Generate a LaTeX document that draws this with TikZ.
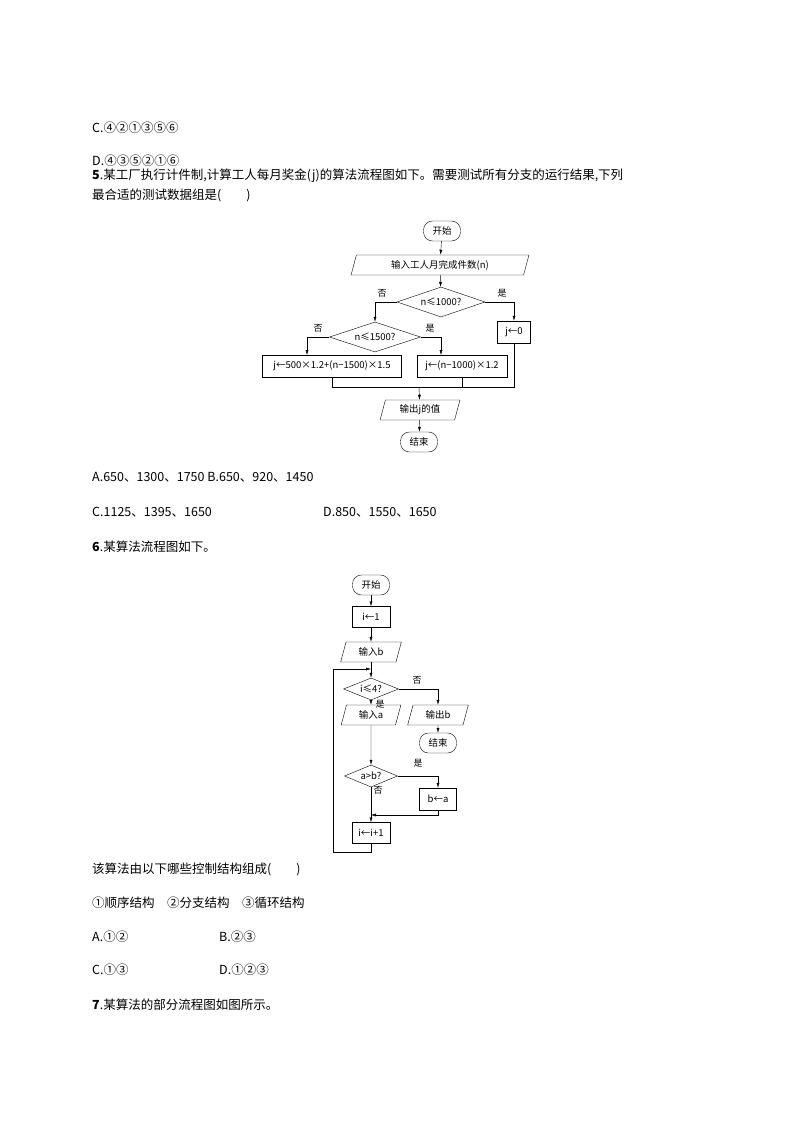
\documentclass[tikz,border=0pt]{standalone}
\usepackage{fontspec}
\setmainfont{Noto Sans CJK SC}
\usetikzlibrary{shapes.geometric,arrows.meta}
\begin{document}
\begin{tikzpicture}[x=1pt,y=-1pt,
  txt/.style={anchor=west,font=\fontsize{12.5}{14}\selectfont,inner sep=0},
  fc/.style={font=\fontsize{9.5}{11}\selectfont,inner sep=1pt},
  term/.style={fc,draw,rounded corners=9pt,minimum width=37pt,minimum height=20pt},
  pbox/.style={fc,draw,minimum height=22pt},
  io/.style={fc,draw,trapezium,trapezium left angle=75,trapezium right angle=105,minimum height=20pt},
  dia/.style={fc,draw,diamond,aspect=3,inner sep=0pt},
  arr/.style={-{Latex[length=5pt,width=3pt]}},
  lab/.style={font=\fontsize{9}{10}\selectfont,inner sep=0}]
\useasboundingbox (0,0) rectangle (794,1123);
\node[txt] (t1) at (92,128) {C.④②①③⑤⑥};
\node[txt] (t2) at (92,161) {D.④③⑤②①⑥};
\node[txt] (t3) at (92,176) {\textbf{5}.某工厂执行计件制,计算工人每月奖金(j)的算法流程图如下。需要测试所有分支的运行结果,下列};
\node[txt] (t4) at (92,195) {最合适的测试数据组是(\qquad)};
% flowchart 1
\node[term] (s1) at (442,231) {开始};
\node[io,minimum width=120pt] (in1) at (440,265) {输入工人月完成件数(n)};
\node[dia,minimum width=88pt,minimum height=30pt] (d1) at (441,302) {n≤1000?};
\node[pbox,minimum width=33pt] (j0) at (514,332) {j←0};
\node[dia,minimum width=91pt,minimum height=30pt] (d2) at (375,337) {n≤1500?};
\node[pbox,minimum width=139pt] (bl) at (332,366) {j←500×1.2+(n−1500)×1.5};
\node[pbox,minimum width=90pt] (br) at (462,366) {j←(n−1000)×1.2};
\node[io,minimum width=60pt] (out1) at (420,410) {输出j的值};
\node[term] (e1) at (419,442) {结束};
\coordinate (m1) at (419,387);
\draw[arr] (s1) -- (in1);
\draw[arr] (in1) -- (d1);
\draw[arr] (d1.west) -| (d2.north);
\draw[arr] (d1.east) -| (j0.north);
\draw[arr] (d2.west) -| (307,355);
\draw[arr] (d2.east) -| (441,355);
\draw (bl.south) |- (j0.south |- m1) -- (j0.south);
\draw (br.south -| 462,0) -- (462,387);
\draw[arr] (m1) -- (out1);
\draw[arr] (out1) -- (e1);
\node[lab] at (382,293) {否};
\node[lab] at (502,293) {是};
\node[lab] at (318,328) {否};
\node[lab] at (430,328) {是};
\node[txt] (t5) at (92,477) {A.650、1300、1750 B.650、920、1450};
\node[txt] (t6) at (92,512) {C.1125、1395、1650};
\node[txt] (t7) at (323,512) {D.850、1550、1650};
\node[txt] (t8) at (92,547) {\textbf{6}.某算法流程图如下。};
% flowchart 2
\node[term] (s2) at (371,585) {开始};
\node[pbox,minimum width=38pt,minimum height=21pt] (i1) at (371,617) {i←1};
\node[io,minimum width=36pt] (inb) at (371,652) {输入b};
\coordinate (lp) at (371,669);
\node[dia,minimum width=55pt,minimum height=22pt] (d3) at (371,689) {i≤4?};
\node[io,minimum width=34pt] (outb) at (438,715) {输出b};
\node[term] (e2) at (438,743) {结束};
\node[io,minimum width=36pt] (ina) at (371,715) {输入a};
\node[dia,minimum width=53pt,minimum height=22pt] (d4) at (371,776) {a>b?};
\node[pbox,minimum width=37pt,minimum height=22pt] (ba) at (438,799) {b←a};
\node[pbox,minimum width=38pt,minimum height=21pt] (inc) at (371,833) {i←i+1};
\coordinate (m2) at (371,815);
\draw[arr] (s2) -- (i1);
\draw[arr] (i1) -- (inb);
\draw (inb) -- (lp);
\draw[arr] (lp) -- (d3);
\draw[arr] (d3.east) -| (outb.north);
\draw[arr] (outb) -- (e2);
\draw[arr] (d3) -- (ina);
\draw[arr] (ina) -- (d4);
\draw[arr] (d4.east) -| (ba.north);
\draw[arr] (ba.south) |- (m2);
\draw[arr] (d4) -- (inc);
\draw[arr] (inc.south) -- (371,852) -| (333,669) -- (lp);
\node[lab] at (417,680) {否};
\node[lab] at (380,704) {是};
\node[lab] at (418,763) {是};
\node[lab] at (378,790) {否};
\node[txt] (t9) at (92,869) {该算法由以下哪些控制结构组成(\qquad)};
\node[txt] (t10) at (92,903) {①顺序结构\quad ②分支结构\quad ③循环结构};
\node[txt] (t11) at (92,937) {A.①②};
\node[txt] (t12) at (219,937) {B.②③};
\node[txt] (t13) at (92,970) {C.①③};
\node[txt] (t14) at (219,970) {D.①②③};
\node[txt] (t15) at (92,1005) {\textbf{7}.某算法的部分流程图如图所示。};
\end{tikzpicture}
\end{document}
